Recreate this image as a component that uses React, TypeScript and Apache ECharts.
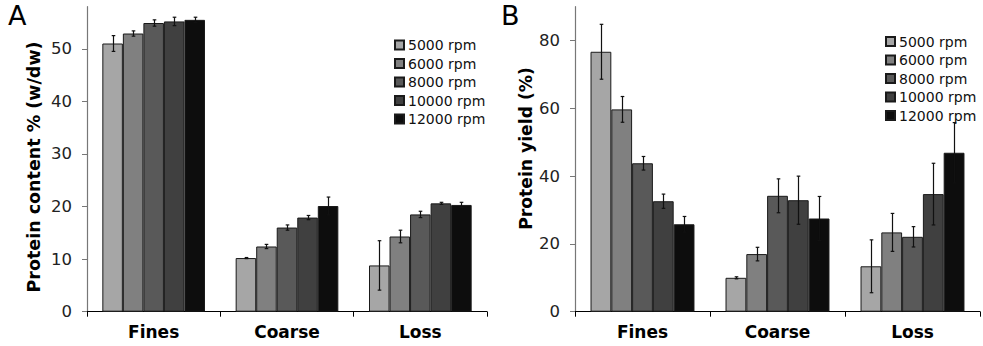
import React, { useEffect, useRef } from "react";
import * as echarts from "echarts";

const categories = ["Fines", "Coarse", "Loss"];
const seriesNames = ["5000 rpm", "6000 rpm", "8000 rpm", "10000 rpm", "12000 rpm"];
const colors = ["#a6a6a6", "#808080", "#595959", "#404040", "#0d0d0d"];

// Panel A: protein content % (w/dw), per speed: [Fines, Coarse, Loss]
const contentValues = [
  [51.0, 10.2, 8.8],
  [52.9, 12.4, 14.3],
  [54.9, 16.0, 18.5],
  [55.2, 17.9, 20.6],
  [55.5, 20.1, 20.3],
];
const contentErrors = [
  [1.5, 0.1, 4.7],
  [0.5, 0.4, 1.2],
  [0.6, 0.5, 0.6],
  [0.8, 0.4, 0.2],
  [0.5, 1.7, 0.5],
];
// Panel B: protein yield (%)
const yieldValues = [
  [76.7, 10.0, 13.4],
  [59.7, 17.0, 23.4],
  [43.8, 34.2, 22.1],
  [32.6, 32.9, 34.7],
  [25.8, 27.5, 46.9],
];
const yieldErrors = [
  [8.1, 0.3, 7.8],
  [3.8, 2.0, 5.6],
  [2.0, 5.0, 3.0],
  [2.1, 7.1, 9.1],
  [2.3, 6.5, 8.9],
];
const contentTicks = [0, 10, 20, 30, 40, 50];
const yieldTicks = [0, 20, 40, 60, 80];

const FONT = "DejaVu Sans";
const GAP = 0.23;

export default function App() {
  const ref = useRef<HTMLDivElement>(null);
  useEffect(() => {
    document.body.style.margin = "0";
    const chart = echarts.init(ref.current!, null, { renderer: "svg" });

    const makeBars = (vals: number[][], g: number) =>
      vals.map((v, i) => ({
        type: "bar",
        name: seriesNames[i],
        xAxisIndex: g,
        yAxisIndex: g,
        data: v,
        barGap: "0%",
        barCategoryGap: GAP * 100 + "%",
        itemStyle: { color: colors[i], borderColor: "#1a1a1a", borderWidth: 1 },
      }));

    const makeErr = (vals: number[][], errs: number[][], g: number) => {
      const data: number[][] = [];
      vals.forEach((v, si) =>
        v.forEach((val, ci) => data.push([ci, si, val, errs[si][ci]]))
      );
      return {
        type: "custom",
        xAxisIndex: g,
        yAxisIndex: g,
        z: 10,
        encode: { x: 0, y: 2 },
        data,
        renderItem: (params: any, api: any) => {
          const cat = api.value(0);
          const si = api.value(1);
          const v = api.value(2);
          const e = api.value(3);
          const c = api.coord([cat, v]);
          const catW = api.size([1, 0])[0];
          const bw = (catW * (1 - GAP)) / 5;
          const x = Math.round(c[0] + (si - 2) * bw) + 0.5;
          const top = api.coord([cat, v + e])[1];
          const bot = api.coord([cat, v - e])[1];
          const st = { stroke: "#111", lineWidth: 1.2 };
          return {
            type: "group",
            children: [
              { type: "line", shape: { x1: x, y1: top, x2: x, y2: bot }, style: st },
              { type: "line", shape: { x1: x - 1.8, y1: top, x2: x + 1.8, y2: top }, style: st },
              { type: "line", shape: { x1: x - 1.8, y1: bot, x2: x + 1.8, y2: bot }, style: st },
            ],
          };
        },
      };
    };

    const xAxis = (g: number) => ({
      type: "category",
      gridIndex: g,
      data: categories,
      axisLine: { lineStyle: { color: "#000", width: 1 } },
      axisTick: { show: true, alignWithLabel: false, interval: 0, length: 5, lineStyle: { color: "#000" } },
      axisLabel: { fontFamily: FONT, fontWeight: "bold", fontSize: 17, color: "#000", margin: 12 },
    });
    const yAxis = (g: number, max: number, ticks: number[]) => ({
      type: "value",
      gridIndex: g,
      min: 0,
      max,
      splitLine: { show: false },
      axisLine: { show: true, lineStyle: { color: "#777", width: 1.2 } },
      axisTick: { show: true, length: 5, customValues: ticks, lineStyle: { color: "#777" } },
      axisLabel: { fontFamily: FONT, fontSize: 16.5, color: "#222", margin: 15, customValues: ticks },
    });
    const legend = (left: number, top: number) => ({
      orient: "vertical",
      left,
      top,
      padding: 0,
      itemWidth: 9,
      itemHeight: 9,
      itemGap: 4.5,
      icon: "rect",
      data: seriesNames,
      selectedMode: false,
      textStyle: { fontFamily: FONT, fontSize: 14, color: "#111", lineHeight: 13, padding: [0, 0, 0, -1] },
    });

    chart.setOption({
      animation: false,
      grid: [
        { left: 87, right: 496, top: 6.7, bottom: 34.3 },
        { left: 575, right: 3, top: 6.7, bottom: 34.3 },
      ],
      xAxis: [xAxis(0), xAxis(1)],
      yAxis: [yAxis(0, 58, contentTicks), yAxis(1, 90, yieldTicks)],
      legend: [legend(394, 38), legend(885, 34.5)],
      graphic: [
        { type: "text", left: 8, top: 2, style: { text: "A", fontFamily: FONT, fontSize: 27, fill: "#000" } },
        { type: "text", left: 501, top: 2, style: { text: "B", fontFamily: FONT, fontSize: 27, fill: "#000" } },
        {
          type: "text",
          x: 33.5,
          y: 167,
          rotation: Math.PI / 2,
          style: { text: "Protein content % (w/dw)", fontFamily: FONT, fontWeight: "bold", fontSize: 17.5, fill: "#000", align: "center", verticalAlign: "middle" },
        },
        {
          type: "text",
          x: 525.5,
          y: 148.5,
          rotation: Math.PI / 2,
          style: { text: "Protein yield (%)", fontFamily: FONT, fontWeight: "bold", fontSize: 17.2, fill: "#000", align: "center", verticalAlign: "middle" },
        },
      ],
      series: [
        ...makeBars(contentValues, 0),
        ...makeBars(yieldValues, 1),
        makeErr(contentValues, contentErrors, 0),
        makeErr(yieldValues, yieldErrors, 1),
      ],
    });
    return () => chart.dispose();
  }, []);
  return <div ref={ref} style={{ width: 983, height: 346 }} />;
}
